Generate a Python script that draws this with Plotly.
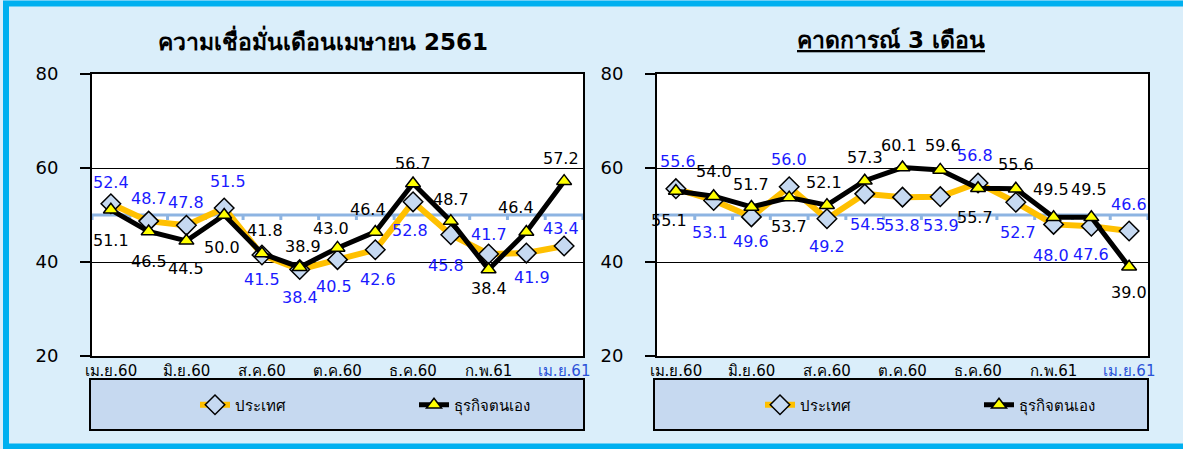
import plotly.graph_objects as go

# ---------------- data ----------------
months = ['เม.ย.60', 'พ.ค.60', 'มิ.ย.60', 'ก.ค.60', 'ส.ค.60', 'ก.ย.60', 'ต.ค.60',
          'พ.ย.60', 'ธ.ค.60', 'ม.ค.61', 'ก.พ.61', 'มี.ค.61', 'เม.ย.61']
series_names = ['ประเทศ', 'ธุรกิจตนเอง']
titles = ['ความเชื่อมั่นเดือนเมษายน 2561', 'คาดการณ์ 3 เดือน']

left_country = [52.4, 48.7, 47.8, 51.5, 41.5, 38.4, 40.5, 42.6, 52.8, 45.8, 41.7, 41.9, 43.4]
left_business = [51.1, 46.5, 44.5, 50.0, 41.8, 38.9, 43.0, 46.4, 56.7, 48.7, 38.4, 46.4, 57.2]
right_country = [55.6, 53.1, 49.6, 56.0, 49.2, 54.5, 53.8, 53.9, 56.8, 52.7, 48.0, 47.6, 46.6]
right_business = [55.1, 54.0, 51.7, 53.7, 52.1, 57.3, 60.1, 59.6, 55.7, 55.6, 49.5, 49.5, 39.0]
ref_level = 50

# ---------------- label offsets (px, style only) ----------------
lc_dx = [0, 0, 0, 4, 0, 0, -4, 3, -3, -5, 0, 6, -3]
lc_dy = [21, 23, 23, 26, -25, -28, -27, -30, -29, -31, 20, -24, 18]
lb_dx = [0, 0, 0, -2, 3, 3, -7, -7, 0, 0, 0, -10, -3]
lb_dy = [-31, -30, -28, -32, 23, 21, 19, 22, 20, 22, -19, 24, 23]
rc_dx = [2, -4, 0, 0, 0, 3, -1, 1, -3, 2, -3, 0, 0]
rc_dy = [27, -32, -25, 27, -28, -31, -28, -29, 28, -30, -31, -28, 26]
rb_dx = [-7, 0, 0, 0, -3, 0, -4, 3, -3, 0, -3, -2, 0]
rb_dy = [-29, 25, 23, -29, 23, 23, 22, 24, -29, 24, 28, 28, -26]

W, H = 1183, 449
FONT = "Tahoma, 'DejaVu Sans', sans-serif"
ORANGE = '#ffc000'
BLUE_TXT = '#1a1aff'
AXIS50 = '#8db4e2'


def px(x):
    return x / W


def py(y):
    return 1 - y / H


x_idx = list(range(len(months)))
ydom = [py(356), py(74)]
left_dom = [px(92), px(583)]
right_dom = [px(657), px(1148)]

fig = go.Figure()

panels = [
    dict(xa='x', ya='y', c=left_country, b=left_business,
         cdx=lc_dx, cdy=lc_dy, bdx=lb_dx, bdy=lb_dy, legend='legend'),
    dict(xa='x2', ya='y2', c=right_country, b=right_business,
         cdx=rc_dx, cdy=rc_dy, bdx=rb_dx, bdy=rb_dy, legend='legend2'),
]

annotations = []
shapes = [
    # outer frame
    dict(type='rect', xref='paper', yref='paper', x0=px(6), x1=px(1192), y0=py(446.5), y1=py(3.5),
         line=dict(color='#00b0f0', width=6), fillcolor='rgba(0,0,0,0)', layer='below'),
    # legend boxes
    dict(type='rect', xref='paper', yref='paper', x0=px(90), x1=px(584), y0=py(430), y1=py(379),
         line=dict(color='black', width=2), fillcolor='#c6d9f0', layer='below'),
    dict(type='rect', xref='paper', yref='paper', x0=px(654), x1=px(1148), y0=py(430), y1=py(379),
         line=dict(color='black', width=2), fillcolor='#c6d9f0', layer='below'),
]

for p in panels:
    # horizontal category axis crossing at 50 (light blue) with small tick marks
    shapes.append(dict(type='line', xref=p['xa'], yref=p['ya'],
                       x0=-0.5, x1=len(months) - 0.5,
                       y0=ref_level, y1=ref_level, line=dict(color=AXIS50, width=3),
                       layer='below'))
    for i in range(len(months) + 1):
        shapes.append(dict(type='line', xref=p['xa'], yref=p['ya'], x0=i - 0.5, x1=i - 0.5,
                           ysizemode='pixel', yanchor=ref_level, y0=0, y1=-5,
                           line=dict(color=AXIS50, width=3), layer='below'))

    fig.add_trace(go.Scatter(
        x=x_idx, y=p['c'], xaxis=p['xa'], yaxis=p['ya'], name=series_names[0],
        mode='lines+markers', legend=p['legend'],
        line=dict(color=ORANGE, width=6),
        marker=dict(symbol='diamond', size=15, color='#c6d9f1',
                    line=dict(color='black', width=1.5)),
        cliponaxis=False,
    ))
    fig.add_trace(go.Scatter(
        x=x_idx, y=p['b'], xaxis=p['xa'], yaxis=p['ya'], name=series_names[1],
        mode='lines+markers', legend=p['legend'],
        line=dict(color='black', width=5),
        marker=dict(symbol='triangle-up', size=13, color='#ffff00',
                    line=dict(color='black', width=1.5)),
        cliponaxis=False,
    ))
    for i in x_idx:
        annotations.append(dict(
            x=i, y=p['c'][i], xref=p['xa'], yref=p['ya'], text=f"{p['c'][i]:.1f}",
            showarrow=False, xshift=p['cdx'][i], yshift=p['cdy'][i],
            font=dict(family=FONT, size=16, color=BLUE_TXT)))
        annotations.append(dict(
            x=i, y=p['b'][i], xref=p['xa'], yref=p['ya'], text=f"{p['b'][i]:.1f}",
            showarrow=False, xshift=p['bdx'][i], yshift=p['bdy'][i],
            font=dict(family=FONT, size=16, color='black')))

# titles
annotations.append(dict(x=px(323), y=py(40), xref='paper', yref='paper', showarrow=False,
                        xanchor='center', yanchor='middle',
                        text=f"<b>{titles[0]}</b>",
                        font=dict(family=FONT, size=23, color='black')))
annotations.append(dict(x=px(891), y=py(40), xref='paper', yref='paper', showarrow=False,
                        xanchor='center', yanchor='middle',
                        text=f"<b><u>{titles[1]}</u></b>",
                        font=dict(family=FONT, size=23, color='black')))

tickvals = x_idx[::2]
ticktext = [m for m in months[::2]]
ticktext[-1] = f"<span style='color:#2a52d8'>{ticktext[-1]}</span>"

xbase = dict(range=[-0.5, len(months) - 0.5], tickmode='array', tickvals=tickvals,
             ticktext=ticktext, showline=True, linecolor='black', linewidth=2,
             mirror=True, showgrid=False, zeroline=False, ticks='', automargin=False,
             tickfont=dict(family=FONT, size=15, color='black'), fixedrange=True)
ybase = dict(range=[20, 80], tickmode='array', tickvals=[20, 40, 60, 80], domain=ydom,
             showline=True, linecolor='black', linewidth=2, mirror=True,
             showgrid=True, gridcolor='black', gridwidth=1, zeroline=False,
             ticks='outside', ticklen=10, tickcolor='black', tickwidth=1.5,
             ticklabelstandoff=18, automargin=False,
             tickfont=dict(family=FONT, size=18, color='black'), fixedrange=True)

legend_common = dict(orientation='h', bgcolor='rgba(0,0,0,0)', borderwidth=0,
                     xanchor='left', yanchor='middle', entrywidth=174,
                     entrywidthmode='pixels',
                     font=dict(family=FONT, size=15, color='black'))

fig.update_layout(
    width=W, height=H,
    margin=dict(l=0, r=0, t=0, b=0, pad=0, autoexpand=False),
    paper_bgcolor='#daeefa', plot_bgcolor='white',
    showlegend=True,
    xaxis=dict(**xbase, domain=left_dom, anchor='y'),
    xaxis2=dict(**xbase, domain=right_dom, anchor='y2'),
    yaxis=dict(**ybase, anchor='x'),
    yaxis2=dict(**ybase, anchor='x2'),
    legend=dict(**legend_common, x=px(195), y=py(405)),
    legend2=dict(**legend_common, x=px(760), y=py(405)),
    shapes=shapes,
    annotations=annotations,
)

fig.write_html("out.html", config={'displayModeBar': False},
               post_script="document.body.style.margin='0';")
